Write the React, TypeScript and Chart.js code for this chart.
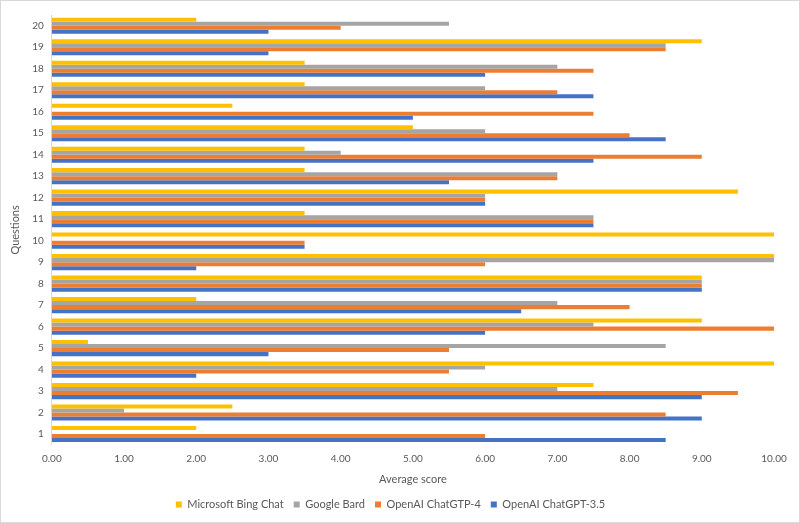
import React, { useEffect, useRef } from "react";
import { Chart, registerables } from "chart.js";

Chart.register(...registerables);

const questions = ["1","2","3","4","5","6","7","8","9","10","11","12","13","14","15","16","17","18","19","20"];
const gpt35 = [8.5, 9, 9, 2, 3, 6, 6.5, 9, 2, 3.5, 7.5, 6, 5.5, 7.5, 8.5, 5, 7.5, 6, 3, 3];
const gpt4 = [6, 8.5, 9.5, 5.5, 5.5, 10, 8, 9, 6, 3.5, 7.5, 6, 7, 9, 8, 7.5, 7, 7.5, 8.5, 4];
const bard = [0, 1, 7, 6, 8.5, 7.5, 7, 9, 10, 0, 7.5, 6, 7, 4, 6, 0, 6, 7, 8.5, 5.5];
const bing = [2, 2.5, 7.5, 10, 0.5, 9, 2, 9, 10, 10, 3.5, 9.5, 3.5, 3.5, 5, 2.5, 3.5, 3.5, 9, 2];
const xTicks = [0, 1, 2, 3, 4, 5, 6, 7, 8, 9, 10];

const rev = (a: any[]) => [...a].reverse();

export default function App() {
  const ref = useRef<HTMLCanvasElement>(null);
  useEffect(() => {
    if (!ref.current) return;
    const font = "Lato, 'Liberation Sans', sans-serif";
    const chart = new Chart(ref.current, {
      type: "bar",
      data: {
        labels: rev(questions),
        datasets: [
          { label: "Microsoft Bing Chat", data: rev(bing), backgroundColor: "#FFC000" },
          { label: "Google Bard", data: rev(bard), backgroundColor: "#A5A5A5" },
          { label: "OpenAI ChatGTP-4", data: rev(gpt4), backgroundColor: "#ED7D31" },
          { label: "OpenAI ChatGPT-3.5", data: rev(gpt35), backgroundColor: "#4472C4" },
        ],
      },
      options: {
        indexAxis: "y",
        animation: false,
        responsive: false,
        maintainAspectRatio: false,
        layout: { padding: { left: 6, right: 25, top: 13, bottom: 2 } },
        datasets: { bar: { categoryPercentage: 0.75, barPercentage: 1 } },
        plugins: {
          legend: {
            position: "bottom",
            labels: { boxWidth: 6, boxHeight: 6, color: "#595959", font: { family: font, size: 11 }, padding: 10 },
          },
          tooltip: { enabled: false },
        },
        scales: {
          x: {
            min: 0,
            max: 10,
            afterBuildTicks: (s: any) => { s.ticks = xTicks.map((v) => ({ value: v })); },
            ticks: { color: "#595959", font: { family: font, size: 10 }, callback: (v: any) => Number(v).toFixed(2), padding: 8 },
            grid: { display: false, drawTicks: false },
            border: { display: false },
            title: { display: true, text: "Average score", color: "#595959", font: { family: font, size: 11 }, padding: { top: 0, bottom: 3 } },
          },
          y: {
            ticks: { color: "#595959", font: { family: font, size: 10 }, autoSkip: false, padding: 8 },
            grid: { display: false, drawTicks: false },
            border: { display: true, color: "#D9D9D9" },
            title: { display: true, text: "Questions", color: "#595959", font: { family: font, size: 11 }, padding: 2 },
          },
        },
      },
    });
    return () => chart.destroy();
  }, []);
  return (
    <div style={{ position: "absolute", left: 0, top: 0, width: 800, height: 523, boxSizing: "border-box", border: "1px solid #D9D9D9", background: "#fff" }}>
      <canvas ref={ref} width={798} height={521} style={{ display: "block" }} />
    </div>
  );
}
